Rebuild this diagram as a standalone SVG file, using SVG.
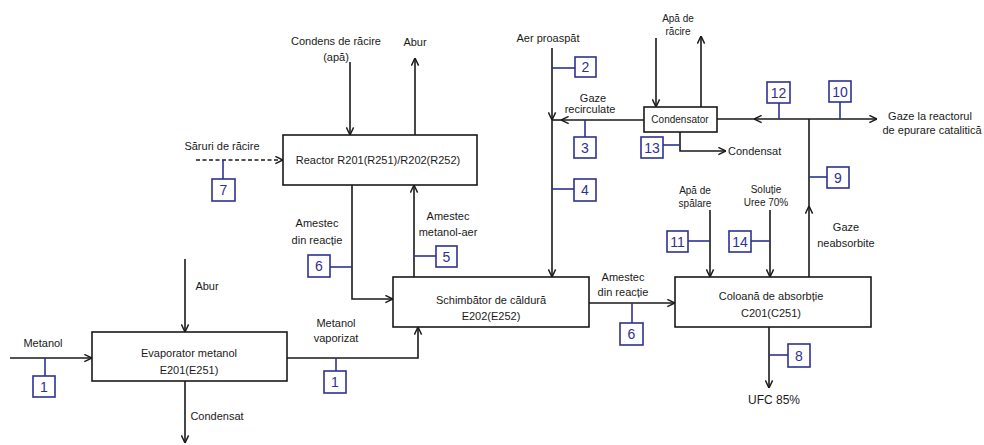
<svg xmlns="http://www.w3.org/2000/svg" width="984" height="445" viewBox="0 0 984 445">
<defs>
<marker id="arr" viewBox="0 0 10 10" refX="9.5" refY="5" markerWidth="9" markerHeight="9" markerUnits="userSpaceOnUse" orient="auto">
<path d="M1,1 L9.5,5 L1,9" fill="none" stroke="#1a1a1a" stroke-width="1.6"/>
</marker>
</defs>
<style>
.box{fill:#fff;stroke:#1a1a1a;stroke-width:1.6}
.ln{fill:none;stroke:#1a1a1a;stroke-width:1.6}
.dash{fill:none;stroke:#1a1a1a;stroke-width:1.6;stroke-dasharray:4,2.5}
.t{font-family:"Liberation Sans",Arial,sans-serif;font-size:11px;fill:#1a1a1a;text-anchor:middle}
.ts{font-family:"Liberation Sans",Arial,sans-serif;font-size:10px;fill:#1a1a1a;text-anchor:middle}
.tag rect{fill:#fff;stroke:#2e3192;stroke-width:1.6}
.tag line{stroke:#2e3192;stroke-width:1.6}
.tag text{font-family:"Liberation Sans",Arial,sans-serif;font-size:14px;fill:#2e3192;text-anchor:middle}
</style>
<rect width="984" height="445" fill="#fff"/>

<g id="connectors">
<path class="ln" d="M10,358 H92" marker-end="url(#arr)"/>
<path class="ln" d="M185,259 V332" marker-end="url(#arr)"/>
<path class="ln" d="M185,381 V443" marker-end="url(#arr)"/>
<path class="ln" d="M287,358 H418 V327" marker-end="url(#arr)"/>
<path class="ln" d="M352,185 V299 H393" marker-end="url(#arr)"/>
<path class="ln" d="M414,277 V185" marker-end="url(#arr)"/>
<path class="ln" d="M350,62 V135" marker-end="url(#arr)"/>
<path class="ln" d="M415,135 V58" marker-end="url(#arr)"/>
<path class="dash" d="M196,160 H283" marker-end="url(#arr)"/>
<path class="ln" d="M552,48 V120" marker-end="url(#arr)"/>
<path class="ln" d="M552,120 V277" marker-end="url(#arr)"/>
<path class="ln" d="M644,120 H561" marker-end="url(#arr)"/>
<path class="ln" d="M561,120 H552"/>
<path class="ln" d="M656,38 V107" marker-end="url(#arr)"/>
<path class="ln" d="M701,107 V36" marker-end="url(#arr)"/>
<path class="ln" d="M680,132 V151 H726" marker-end="url(#arr)"/>
<path class="ln" d="M809,277 V206" marker-end="url(#arr)"/>
<path class="ln" d="M809,206 V119"/>
<path class="ln" d="M809,119 H754" marker-end="url(#arr)"/>
<path class="ln" d="M754,119 H717"/>
<path class="ln" d="M809,119 H877" marker-end="url(#arr)"/>
<path class="ln" d="M710,210 V277" marker-end="url(#arr)"/>
<path class="ln" d="M770,210 V277" marker-end="url(#arr)"/>
<path class="ln" d="M589,303 H675" marker-end="url(#arr)"/>
<path class="ln" d="M769,327 V388" marker-end="url(#arr)"/>
</g>

<g id="evaporator">
<rect class="box" x="92" y="332" width="195" height="49"/>
<text class="t" x="189" y="357">Evaporator metanol</text>
<text class="t" x="189" y="374">E201(E251)</text>
</g>
<g id="schimbator">
<rect class="box" x="393" y="277" width="196" height="50"/>
<text class="t" x="491" y="304">Schimbător de căldură</text>
<text class="t" x="491" y="320">E202(E252)</text>
</g>
<g id="reactor">
<rect class="box" x="283" y="135" width="194" height="50"/>
<text class="t" x="378" y="164">Reactor R201(R251)/R202(R252)</text>
</g>
<g id="condensator">
<rect class="box" x="644" y="107" width="73" height="25"/>
<text class="ts" x="680" y="123">Condensator</text>
</g>
<g id="coloana">
<rect class="box" x="675" y="277" width="196" height="50"/>
<text class="t" x="771" y="300">Coloană de absorbție</text>
<text class="t" x="771" y="317">C201(C251)</text>
</g>

<g id="labels">
<text class="t" x="43" y="347">Metanol</text>
<text class="t" x="207" y="290">Abur</text>
<text class="t" x="217" y="420">Condensat</text>
<text class="t" x="336" y="327">Metanol</text>
<text class="t" x="336" y="342">vaporizat</text>
<text class="t" x="317" y="227">Amestec</text>
<text class="t" x="317" y="244">din reacție</text>
<text class="t" x="448" y="220">Amestec</text>
<text class="t" x="448" y="236">metanol-aer</text>
<text class="t" x="336" y="45">Condens de răcire</text>
<text class="t" x="336" y="61">(apă)</text>
<text class="t" x="415" y="46">Abur</text>
<text class="t" x="222" y="150">Săruri de răcire</text>
<text class="t" x="548" y="42">Aer proaspăt</text>
<text class="t" x="593" y="102">Gaze</text>
<text class="t" x="590" y="113">recirculate</text>
<text class="ts" x="678" y="22">Apă de</text>
<text class="ts" x="678" y="35">răcire</text>
<text class="t" x="728" y="155" style="text-anchor:start">Condensat</text>
<text class="t" x="930" y="120">Gaze la reactorul</text>
<text class="t" x="932" y="134">de epurare catalitică</text>
<text class="t" x="846" y="231">Gaze</text>
<text class="t" x="846" y="247">neabsorbite</text>
<text class="ts" x="695" y="194">Apă de</text>
<text class="ts" x="695" y="207">spălare</text>
<text class="ts" x="766" y="193">Soluție</text>
<text class="ts" x="766" y="206">Uree 70%</text>
<text class="t" x="623" y="281">Amestec</text>
<text class="t" x="623" y="296">din reacție</text>
<text class="t" x="774" y="404" style="font-size:12px">UFC 85%</text>
</g>

<g id="tag1a" class="tag"><line x1="45" y1="358" x2="45" y2="376"/><rect x="33" y="376" width="22" height="21"/><text x="44" y="391.5">1</text></g>
<g id="tag1b" class="tag"><line x1="336" y1="358" x2="336" y2="371"/><rect x="324" y="371" width="22" height="22"/><text x="335" y="387">1</text></g>
<g id="tag7" class="tag"><line x1="223" y1="160" x2="223" y2="179"/><rect x="212" y="179" width="23" height="22"/><text x="223.5" y="195">7</text></g>
<g id="tag6a" class="tag"><line x1="330" y1="267" x2="352" y2="267"/><rect x="308" y="255" width="22" height="22"/><text x="319" y="271">6</text></g>
<g id="tag5" class="tag"><line x1="414" y1="256" x2="436" y2="256"/><rect x="436" y="246" width="21" height="21"/><text x="446.5" y="261.5">5</text></g>
<g id="tag2" class="tag"><line x1="552" y1="68" x2="575" y2="68"/><rect x="575" y="57" width="21" height="20"/><text x="585.5" y="72">2</text></g>
<g id="tag3" class="tag"><line x1="585" y1="120" x2="585" y2="137"/><rect x="574" y="137" width="22" height="21"/><text x="585" y="152.5">3</text></g>
<g id="tag4" class="tag"><line x1="552" y1="189" x2="574" y2="189"/><rect x="574" y="179" width="22" height="22"/><text x="585" y="195">4</text></g>
<g id="tag13" class="tag"><line x1="663" y1="145" x2="680" y2="145"/><rect x="641" y="137" width="22" height="21"/><text x="652" y="152.5">13</text></g>
<g id="tag12" class="tag"><line x1="779" y1="103" x2="779" y2="119"/><rect x="767" y="82" width="23" height="21"/><text x="778.5" y="97.5">12</text></g>
<g id="tag10" class="tag"><line x1="840" y1="102" x2="840" y2="119"/><rect x="829" y="81" width="22" height="21"/><text x="840" y="96.5">10</text></g>
<g id="tag9" class="tag"><line x1="809" y1="177" x2="827" y2="177"/><rect x="827" y="167" width="22" height="21"/><text x="838" y="182.5">9</text></g>
<g id="tag11" class="tag"><line x1="688" y1="241" x2="710" y2="241"/><rect x="667" y="231" width="21" height="21"/><text x="677.5" y="246.5">11</text></g>
<g id="tag14" class="tag"><line x1="751" y1="241" x2="770" y2="241"/><rect x="729" y="231" width="22" height="21"/><text x="740" y="246.5">14</text></g>
<g id="tag6b" class="tag"><line x1="632" y1="303" x2="632" y2="323"/><rect x="620" y="323" width="23" height="22"/><text x="631.5" y="339">6</text></g>
<g id="tag8" class="tag"><line x1="769" y1="355" x2="788" y2="355"/><rect x="788" y="344" width="22" height="23"/><text x="799" y="360.5">8</text></g>
</svg>
